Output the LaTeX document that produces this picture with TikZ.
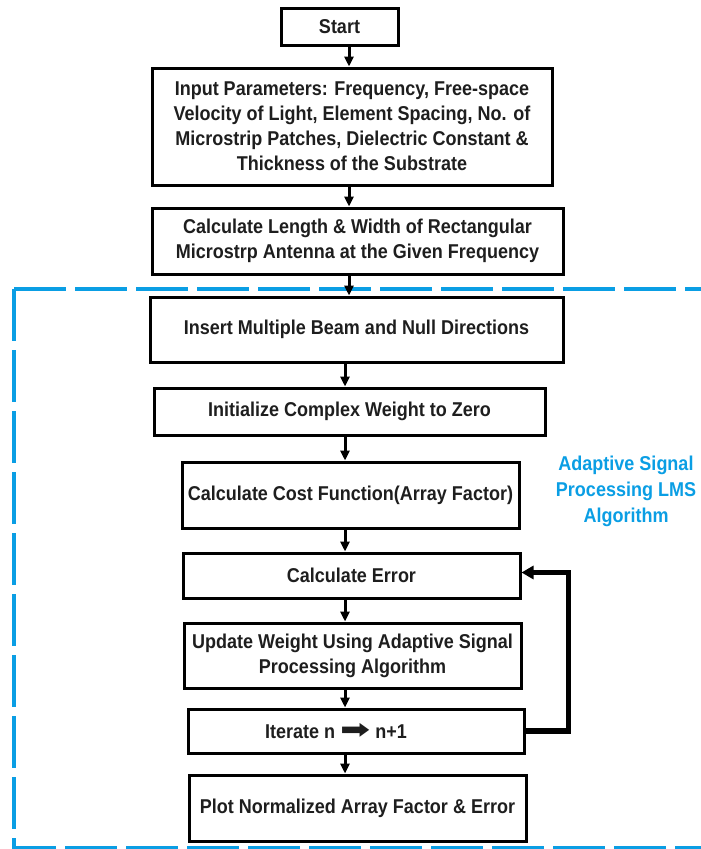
\documentclass[tikz,border=0pt]{standalone}
\usepackage{fontspec}
\setmainfont{Liberation Sans}[FakeStretch=0.9]
\newfontfamily\symfont{DejaVu Sans}
\usetikzlibrary{arrows.meta,calc}
\definecolor{lmsblue}{RGB}{10,158,228}
\definecolor{boxtext}{RGB}{30,30,30}

\begin{document}
\begin{tikzpicture}[x=1pt, y=-1pt,
    box/.style={draw, line width=3pt, inner sep=0pt, align=center, text=boxtext,
        font=\fontsize{20}{25}\selectfont\bfseries},
    arr/.style={-{Triangle[length=10pt,width=9pt]}, line width=3pt},
    loopback/.style={-{Triangle[length=12pt,width=13pt]}, line width=5.5pt},
  ]
    \useasboundingbox (0,0) rectangle (701,849);

    % LMS block frame (runs off the right edge)
    \draw[lmsblue, line width=3.2pt, dash pattern=on 52pt off 9pt]
        (14,289) -- (720,289) (14,289) -- (14,848) -- (720,848);

    % Flowchart boxes
    \node[box, minimum width=117pt, minimum height=37pt] (start) at (339.5,26.5) {Start};
    \node[box, minimum width=400pt, minimum height=117pt] (input) at (352,126.5)
        {Input Parameters: Frequency, Free-space\\
         Velocity of Light, Element Spacing, No. of\\
         Microstrip Patches, Dielectric Constant \&\\
         Thickness of the Substrate};
    \node[box, minimum width=411pt, minimum height=66pt] (dims) at (357.5,241)
        {Calculate Length \& Width of Rectangular\\
         Microstrp Antenna at the Given Frequency};
    \node[box, minimum width=413pt, minimum height=65pt] (beams) at (356.5,329.5)
        {Insert Multiple Beam and Null Directions};
    \node[box, minimum width=391pt, minimum height=47pt] (init) at (349.5,411.5)
        {Initialize Complex Weight to Zero};
    \node[box, minimum width=337pt, minimum height=66pt] (cost) at (350.5,495)
        {Calculate Cost Function(Array Factor)};
    \node[box, minimum width=337pt, minimum height=45pt] (err) at (351.5,575.5)
        {Calculate Error};
    \node[box, minimum width=337pt, minimum height=65pt] (update) at (352.5,655.5)
        {Update Weight Using Adaptive Signal\\Processing Algorithm};
    \node[box, minimum width=336pt, minimum height=44pt] (iter) at (356,731)
        {Iterate n {\symfont\scalebox{1.8}[1.3]{➡}} n+1\hspace*{40pt}};
    \node[box, minimum width=337pt, minimum height=66pt] (plot) at (357.5,808)
        {Plot Normalized Array Factor \& Error};

    % Block label
    \node[lmsblue, align=center, font=\fontsize{20}{26}\selectfont\bfseries] (lmslabel)
        at (626,491) {Adaptive Signal\\Processing LMS\\Algorithm};

    % Downward arrows
    \coordinate (axisA) at (349,0);
    \coordinate (axisB) at (345,0);
    \draw[arr] (start.south -| axisA) -- (input.north -| axisA);
    \draw[arr] (input.south -| axisA) -- (dims.north -| axisA);
    \draw[arr] (dims.south -| axisA) -- (beams.north -| axisA);
    \draw[arr] (beams.south -| axisB) -- (init.north -| axisB);
    \draw[arr] (init.south -| axisB) -- (cost.north -| axisB);
    \draw[arr] (cost.south -| axisB) -- (err.north -| axisB);
    \draw[arr] (err.south -| axisB) -- (update.north -| axisB);
    \draw[arr] (update.south -| axisB) -- (iter.north -| axisB);
    \draw[arr] (iter.south -| axisB) -- (plot.north -| axisB);

    % Iteration loop
    \draw[loopback] (iter.east) -- ++(43,0) |- ([yshift=3pt]err.east);
\end{tikzpicture}
\end{document}
